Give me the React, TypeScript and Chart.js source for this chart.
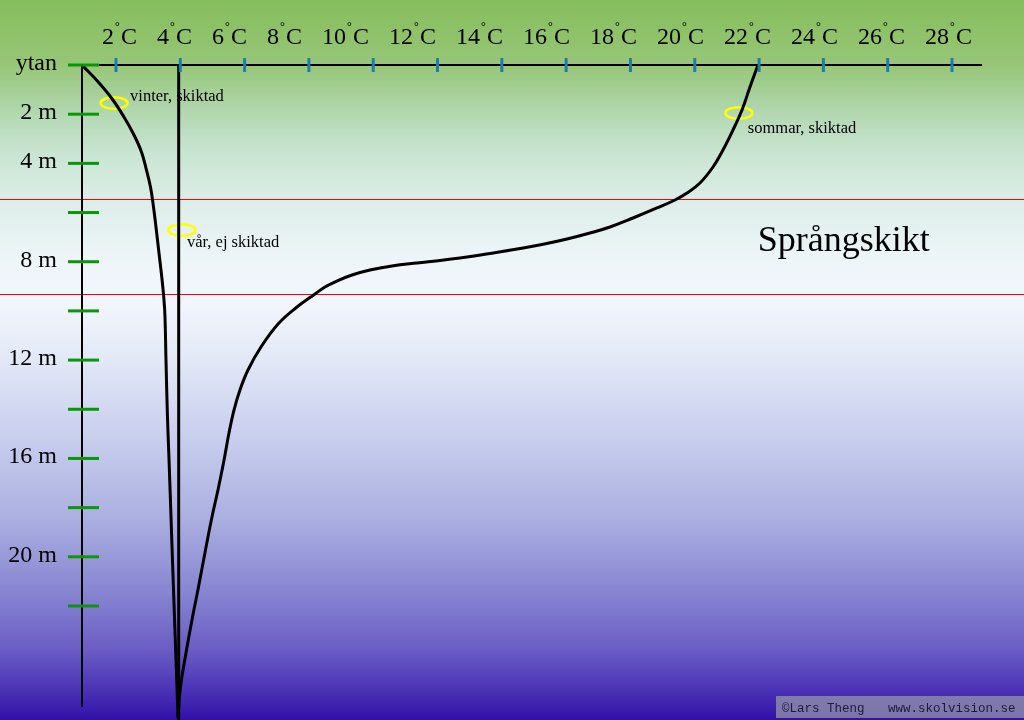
import React, { useEffect, useRef } from 'react';
import { Chart, registerables } from 'chart.js';

Chart.register(...registerables);

// ---- data ----
const tempTicks = [2, 4, 6, 8, 10, 12, 14, 16, 18, 20, 22, 24, 26, 28];
const depthTicks = [0, 2, 4, 6, 8, 10, 12, 14, 16, 18, 20, 22];
const depthLabels = ['ytan', '2 m', '4 m', '', '8 m', '', '12 m', '', '16 m', '', '20 m', ''];

const winterTemp = [0.943, 1.393, 1.86, 2.249, 2.56, 2.793, 2.948, 3.073, 3.15, 3.244, 3.337, 3.424, 3.493, 3.524, 3.555, 3.601, 3.642, 3.704, 3.735, 3.804, 3.844, 3.897, 3.928];
const winterDepth = [0, 0.61, 1.342, 2.115, 2.847, 3.538, 4.27, 4.961, 5.612, 6.588, 7.645, 8.621, 9.556, 10.248, 11.996, 14.314, 15.778, 18.096, 19.316, 21.878, 23.383, 25.294, 26.514];

const springTemp = [3.95, 3.95];
const springDepth = [0, 26.64];

const summerTemp = [21.966, 21.717, 21.469, 21.189, 20.878, 20.567, 20.162, 19.758, 19.385, 18.825, 18.079, 17.363, 16.741, 16.026, 15.248, 14.471, 13.693, 12.916, 12.138, 11.361, 10.583, 9.899, 9.339, 8.873, 8.5, 8.189, 7.629, 7.054, 6.509, 6.105, 5.856, 5.67, 5.514, 5.343, 5.172, 4.985, 4.783, 4.566, 4.363, 4.177, 4.006, 3.928];
const summerDepth = [0, 0.895, 1.83, 2.643, 3.456, 4.148, 4.798, 5.205, 5.49, 5.815, 6.222, 6.588, 6.832, 7.076, 7.299, 7.482, 7.657, 7.808, 7.942, 8.052, 8.174, 8.336, 8.54, 8.784, 9.028, 9.312, 9.841, 10.512, 11.468, 12.403, 13.216, 14.03, 14.965, 16.185, 17.283, 18.381, 19.723, 21.227, 22.569, 23.911, 25.294, 26.514];

const thermoclineDepths = [5.45, 9.31];
const thermoclineName = 'Språngskikt';
const thermoclineLabelTemp = 21.96;
const thermoclineLabelDepth = 7.56;

const noteNames = ['vinter, skiktad', 'vår, ej skiktad', 'sommar, skiktad'];
const noteTemp = [1.94, 4.05, 21.37];
const noteDepth = [1.55, 6.71, 1.95];

const axisDepthEnd = 26.1;
const credit = '©Lars Theng';
const site = 'www.skolvision.se';

const SERIF = "'Liberation Serif', 'DejaVu Serif', serif";

const drawPlugin = {
  id: 'lakeDecor',
  beforeDraw(chart: any) {
    const { ctx, width, height, scales } = chart;
    ctx.save();
    const g = ctx.createLinearGradient(0, 0, 0, height);
    g.addColorStop(0, '#86bd5c');
    g.addColorStop(0.09, '#97c677');
    g.addColorStop(0.153, '#b0d6ae');
    g.addColorStop(0.208, '#c8e4d0');
    g.addColorStop(0.278, '#dcede8');
    g.addColorStop(0.361, '#eef5f9');
    g.addColorStop(0.417, '#f2f6fc');
    g.addColorStop(0.5, '#e2e8f6');
    g.addColorStop(0.625, '#c4caec');
    g.addColorStop(0.722, '#aaafe0');
    g.addColorStop(0.833, '#8480d0');
    g.addColorStop(0.903, '#6a5cc4');
    g.addColorStop(0.972, '#4228b2');
    g.addColorStop(1, '#3010a8');
    ctx.fillStyle = g;
    ctx.fillRect(0, 0, width, height);

    // thermocline boundaries
    ctx.strokeStyle = '#ff0000';
    ctx.lineWidth = 1;
    thermoclineDepths.forEach((d) => {
      const y = Math.round(scales.y.getPixelForValue(d)) + 0.5;
      ctx.beginPath();
      ctx.moveTo(0, y);
      ctx.lineTo(width, y);
      ctx.stroke();
    });
    ctx.restore();
  },
  beforeDatasetsDraw(chart: any) {
    const { ctx, scales } = chart;
    ctx.save();
    ctx.strokeStyle = '#ffff00';
    ctx.lineWidth = 2.5;
    noteNames.forEach((_, i) => {
      const cx = scales.x.getPixelForValue(noteTemp[i]);
      const cy = scales.y.getPixelForValue(noteDepth[i]);
      ctx.beginPath();
      ctx.ellipse(cx, cy, 13.5, 5.8, 0, 0, Math.PI * 2);
      ctx.stroke();
    });
    ctx.restore();
  },
  afterDatasetsDraw(chart: any) {
    const { ctx, scales, chartArea } = chart;
    const xs = scales.x;
    const ys = scales.y;
    ctx.save();
    const y0 = ys.getPixelForValue(0);
    const x0 = chartArea.left;

    // axis lines
    ctx.strokeStyle = '#000';
    ctx.lineWidth = 2;
    ctx.beginPath();
    ctx.moveTo(x0, y0);
    ctx.lineTo(chartArea.right, y0);
    ctx.stroke();
    ctx.beginPath();
    ctx.moveTo(x0, y0);
    ctx.lineTo(x0, ys.getPixelForValue(axisDepthEnd));
    ctx.stroke();

    // x ticks (blue)
    ctx.strokeStyle = '#1a7fb0';
    ctx.lineWidth = 3;
    tempTicks.forEach((t) => {
      const x = xs.getPixelForValue(t);
      ctx.beginPath();
      ctx.moveTo(x, y0 - 7);
      ctx.lineTo(x, y0 + 7);
      ctx.stroke();
    });

    // y ticks (green)
    ctx.strokeStyle = '#0a960a';
    ctx.lineWidth = 3;
    depthTicks.forEach((d) => {
      const y = ys.getPixelForValue(d);
      ctx.beginPath();
      ctx.moveTo(x0 - 14, y);
      ctx.lineTo(x0 + 17, y);
      ctx.stroke();
    });

    // x tick labels, typed like a single line of text
    ctx.fillStyle = '#000';
    ctx.textBaseline = 'alphabetic';
    ctx.textAlign = 'left';
    let cursor = xs.getPixelForValue(tempTicks[0]) - 14;
    const labelBase = y0 - 21;
    tempTicks.forEach((t) => {
      const num = String(t);
      ctx.font = `24px ${SERIF}`;
      ctx.fillText(num, cursor, labelBase);
      const w = ctx.measureText(num).width;
      const wc = ctx.measureText('C').width;
      ctx.fillText('C', cursor + w + 7, labelBase);
      ctx.font = `12px ${SERIF}`;
      ctx.fillText('°', cursor + w + 1, labelBase - 14);
      cursor += w + 7 + wc + 20;
    });

    // y tick labels
    ctx.font = `24px ${SERIF}`;
    ctx.textAlign = 'right';
    depthTicks.forEach((d, i) => {
      if (!depthLabels[i]) return;
      ctx.fillText(depthLabels[i], x0 - 25, ys.getPixelForValue(d) + 5);
    });

    // notes
    ctx.font = `16.5px ${SERIF}`;
    ctx.textAlign = 'left';
    const offs = [[16, -2], [5, 17], [9, 20]];
    noteNames.forEach((n, i) => {
      const cx = xs.getPixelForValue(noteTemp[i]);
      const cy = ys.getPixelForValue(noteDepth[i]);
      ctx.fillText(n, cx + offs[i][0], cy + offs[i][1]);
    });

    // thermocline label
    ctx.font = `36px ${SERIF}`;
    ctx.fillText(thermoclineName, xs.getPixelForValue(thermoclineLabelTemp), ys.getPixelForValue(thermoclineLabelDepth));

    // credit box
    ctx.fillStyle = 'rgba(150,150,170,0.75)';
    ctx.fillRect(776, 696, 248, 22);
    ctx.fillStyle = '#1c1a3c';
    ctx.font = "12.5px 'Liberation Mono', 'DejaVu Sans Mono', monospace";
    ctx.fillText(credit, 782, 712);
    ctx.fillText(site, 888, 712);
    ctx.restore();
  },
};

function toPoints(xs: number[], ys: number[]) {
  return xs.map((x, i) => ({ x, y: ys[i] }));
}

export default function App() {
  const ref = useRef<HTMLCanvasElement>(null);
  useEffect(() => {
    document.body.style.margin = '0';
    const canvas = ref.current!;
    const lineStyle = {
      borderColor: '#000',
      backgroundColor: '#000',
      borderWidth: 3,
      pointRadius: 0,
      fill: false,
      tension: 0.4,
      borderJoinStyle: 'round' as const,
      borderCapStyle: 'round' as const,
    };
    const chart = new Chart(canvas, {
      type: 'line',
      data: {
        datasets: [
          { label: 'vinter', data: toPoints(winterTemp, winterDepth), ...lineStyle },
          { label: 'vår', data: toPoints(springTemp, springDepth), ...lineStyle },
          { label: 'sommar', data: toPoints(summerTemp, summerDepth), ...lineStyle },
        ],
      },
      options: {
        indexAxis: 'y',
        responsive: false,
        animation: false,
        events: [],
        layout: { padding: { left: 82, right: 42, top: 65, bottom: 0 } },
        scales: {
          x: { type: 'linear', min: 0.943, max: 28.933, display: false },
          y: { type: 'linear', min: 0, max: 26.636, reverse: true, display: false },
        },
        plugins: { legend: { display: false }, tooltip: { enabled: false } },
      },
      plugins: [drawPlugin],
    });
    return () => chart.destroy();
  }, []);
  return (
    <div style={{ position: 'fixed', left: 0, top: 0, width: 1024, height: 720 }}>
      <canvas ref={ref} width={1024} height={720} style={{ display: 'block', width: 1024, height: 720 }} />
    </div>
  );
}
